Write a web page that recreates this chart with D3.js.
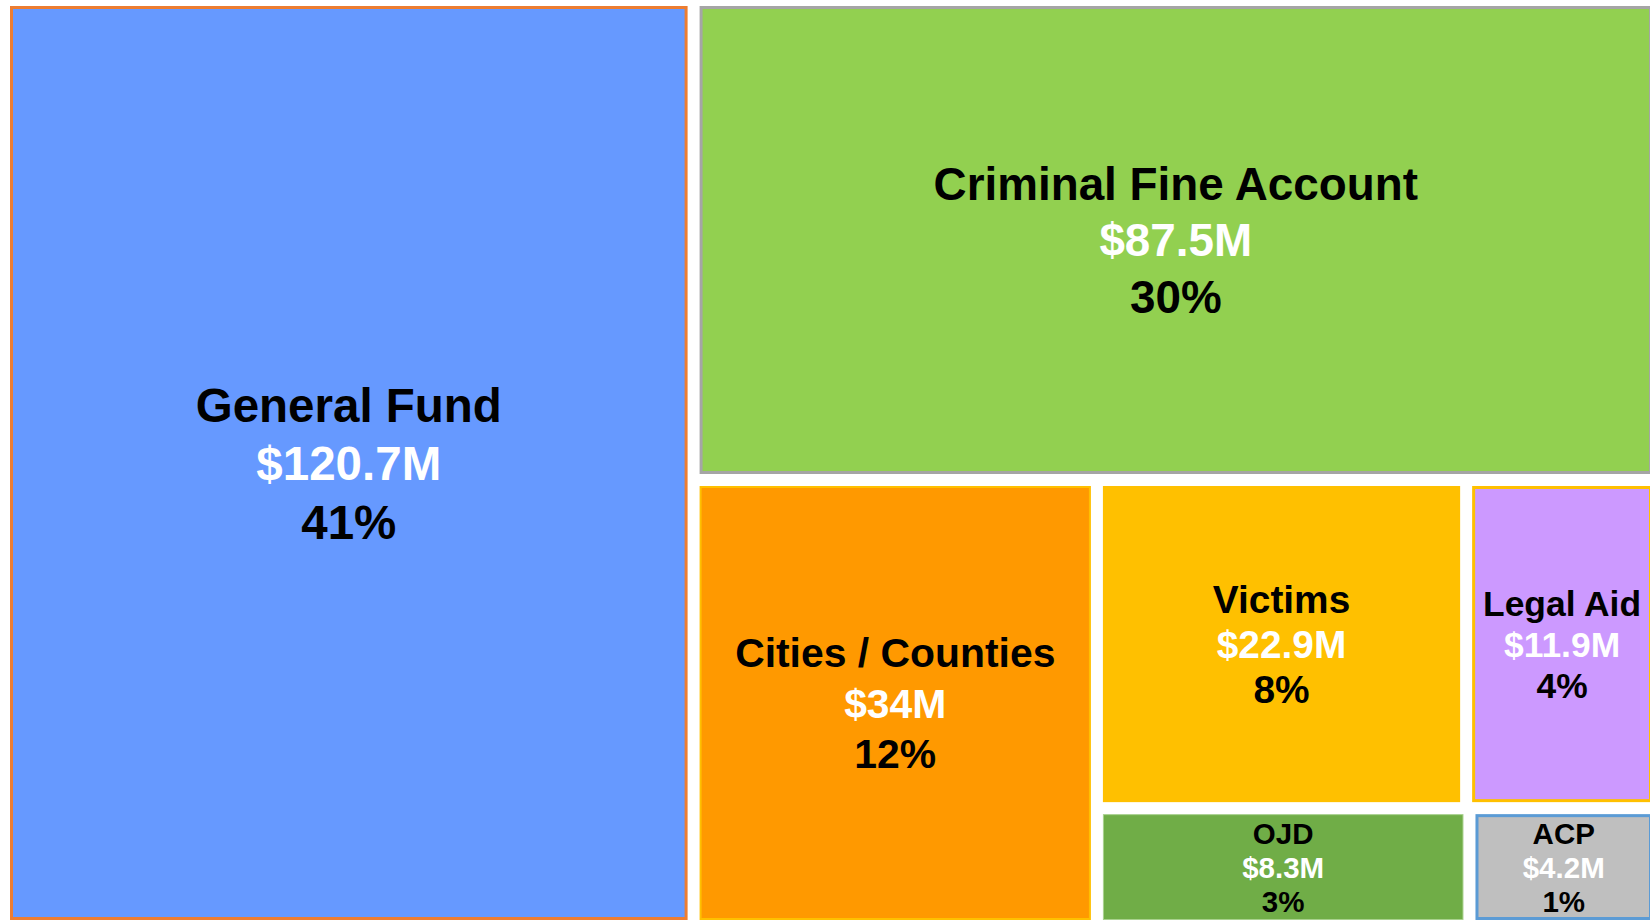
<!DOCTYPE html>
<html>
<head>
<meta charset="utf-8">
<title>Fund distribution</title>
<script src="https://d3js.org/d3.v7.min.js"></script>
<style>
  body { margin: 0; background: #fff; overflow: hidden; }
  svg { display: block; }
  text { font-family: "Liberation Sans", Arial, sans-serif; font-weight: bold; }
</style>
</head>
<body>
<svg width="1650" height="921"></svg>
<script>
// data
var funds = ["General Fund", "Criminal Fine Account", "Cities / Counties", "Victims", "Legal Aid", "OJD", "ACP"];
var amounts = [120.7, 87.5, 34, 22.9, 11.9, 8.3, 4.2];
var shares = ["41%", "30%", "12%", "8%", "4%", "3%", "1%"];

// office-like colours for each box
var fill = d3.scaleOrdinal()
    .domain(funds)
    .range(["#6699ff", "#92d050", "#ff9900", "#ffc000", "#cc99ff", "#70ad47", "#bfbfbf"]);
var outline = d3.scaleOrdinal()
    .domain(funds)
    .range(["#ed7d31", "#a5a5a5", "#ffc000", "#ffc000", "#ffc000", "#a9d18e", "#5b9bd5"]);
var outlineWidth = d3.scaleOrdinal()
    .domain(funds)
    .range([3, 3, 2, 0, 3, 1, 3]);

var w = 1642, h = 914;
var svg = d3.select("svg");

function leaf(i) {
    return {name: funds[i], value: amounts[i], share: shares[i]};
}

// nesting follows the picture: big fund | (criminal fine / (cities | grid of four))
var tree = {children: [
    leaf(0),
    {children: [
        leaf(1),
        {children: [
            leaf(2),
            {children: [
                {children: [leaf(3), leaf(4)]},
                {children: [leaf(5), leaf(6)]}
            ]}
        ]}
    ]}
]};

var root = d3.hierarchy(tree).sum(function(d) { return d.children ? 0 : d.value; });

d3.treemap()
    .tile(d3.treemapSliceDice)
    .size([w, h])
    .paddingInner(12)
    .round(false)(root);

var fontSize = d3.scaleLog()
    .domain(d3.extent(amounts))
    .range([30, 47.5]);

var g = svg.append("g").attr("transform", "translate(10,6)");

var cell = g.selectAll("g.cell")
    .data(root.leaves())
    .enter()
    .append("g")
    .attr("class", "cell");

cell.append("rect")
    .attr("x", function(d) { return d.x0 + outlineWidth(d.data.name) / 2; })
    .attr("y", function(d) { return d.y0 + outlineWidth(d.data.name) / 2; })
    .attr("width", function(d) { return d.x1 - d.x0 - outlineWidth(d.data.name); })
    .attr("height", function(d) { return d.y1 - d.y0 - outlineWidth(d.data.name); })
    .attr("fill", function(d) { return fill(d.data.name); })
    .attr("stroke", function(d) { return outline(d.data.name); })
    .attr("stroke-width", function(d) { return outlineWidth(d.data.name); });

cell.each(function(d) {
    var cw = d.x1 - d.x0, ch = d.y1 - d.y0;
    var fs = Math.min(fontSize(d.data.value), (ch - 4) / 3.45);
    var lead = fs < 40 ? 1.15 : 1.23;
    var cx = (d.x0 + d.x1) / 2;

    var t = d3.select(this).append("text")
        .attr("text-anchor", "middle");

    var lines = [
        {txt: d.data.name, col: "#000"},
        {txt: "$" + d.data.value + "M", col: "#fff"},
        {txt: d.data.share, col: "#000"}
    ];
    lines.forEach(function(l) {
        t.append("tspan")
            .attr("x", cx)
            .attr("fill", l.col)
            .text(l.txt);
    });

    function place(size) {
        var cy = (d.y0 + d.y1) / 2 + size * 0.36;
        t.style("font-size", size + "px");
        t.selectAll("tspan").attr("y", function(_, i) { return cy + (i - 1) * size * lead; });
    }
    place(fs);

    // shrink if the name is too wide for its box
    var tw = t.node().getBBox().width;
    if (tw > cw - 14) place(fs * (cw - 14) / tw);
});
</script>
</body>
</html>
